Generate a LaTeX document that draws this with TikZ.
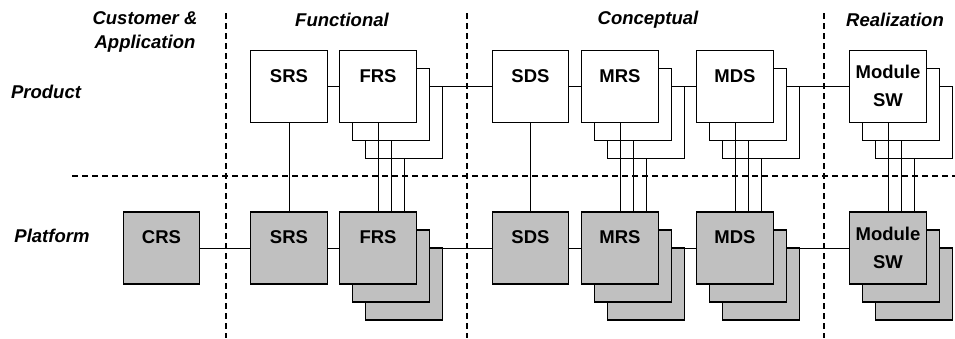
\documentclass[tikz,border=0pt]{standalone}
\usepackage{fontspec}
\setmainfont{Liberation Sans}
\begin{document}
\begin{tikzpicture}[x=1pt,y=-1pt,
  boxbase/.style={draw=black,line width=1.3pt,minimum width=76.5pt,minimum height=72pt,inner sep=0pt,anchor=center},
  prodbox/.style={boxbase,fill=white},
  platbox/.style={boxbase,fill={rgb,255:red,192;green,192;blue,192}},
  lbl/.style={font=\fontsize{18.5}{22}\selectfont\bfseries,inner sep=0pt,anchor=base},
  head/.style={font=\fontsize{18.5}{24}\selectfont\bfseries\itshape,inner sep=0pt,align=center},
  conn/.style={line width=1pt},
  sep/.style={line width=2pt,dash pattern=on 6pt off 4pt}]
\useasboundingbox (0,0) rectangle (955,338);

% separators
\coordinate (v1t) at (226,13); \coordinate (v1b) at (226,338);
\coordinate (v2t) at (467,13); \coordinate (v2b) at (467,338);
\coordinate (v3t) at (824,13); \coordinate (v3b) at (824,338);
\coordinate (hl) at (72,176); \coordinate (hr) at (955,176);
\draw[sep] (v1t) -- (v1b);
\draw[sep] (v2t) -- (v2b);
\draw[sep] (v3t) -- (v3b);
\draw[sep] (hl) -- (hr);

% headers
\node[head] (hcust) at (145,32) {Customer \&\\Application};
\node[head] (hfun) at (342,20) {Functional};
\node[head] (hcon) at (648,20) {Conceptual};
\node[head] (hrea) at (895,20) {Realization};
\node[head] (hprod) at (46,92) {Product};
\node[head] (hplat) at (52,236) {Platform};

% ---- Product row (top) ----
\node[prodbox] (tSRS) at (289,86.5) {};
\foreach \n/\x in {FRS/378,MRS/620,MDS/735,MSW/888}{
  \node[prodbox] (t\n3) at (\x+26,122.5) {};
  \node[prodbox] (t\n2) at (\x+13,104.5) {};
  \node[prodbox] (t\n) at (\x,86.5) {};
}
\node[prodbox] (tSDS) at (530.5,86.5) {};

% ---- Platform row (bottom) ----
\node[platbox] (bCRS) at (161.5,248) {};
\node[platbox] (bSRS) at (289,248) {};
\foreach \n/\x in {FRS/378,MRS/620,MDS/735,MSW/888}{
  \node[platbox] (b\n3) at (\x+26,284) {};
  \node[platbox] (b\n2) at (\x+13,266) {};
  \node[platbox] (b\n) at (\x,248) {};
}
\node[platbox] (bSDS) at (530.5,248) {};

% labels
\foreach \r/\dy in {t/33,b/32}{
  \foreach \n/\txt in {SRS/SRS,FRS/FRS,SDS/SDS,MRS/MRS,MDS/MDS}{
    \node[lbl] (\r\n l) at ([yshift=-\dy]\r\n.north) {\txt};
  }
  \node[lbl] (\r MSWla) at ([yshift=-29]\r MSW.north) {Module};
  \node[lbl] (\r MSWlb) at ([yshift=-57]\r MSW.north) {SW};
}
\node[lbl] (bCRSl) at ([yshift=-32]bCRS.north) {CRS};

% horizontal connectors
\foreach \r in {t,b}{
  \draw[conn] (\r SRS.east) -- (\r FRS.west);
  \draw[conn] (\r SDS.west -| \r FRS3.east) -- (\r SDS.west);
  \draw[conn] (\r SDS.east) -- (\r MRS.west);
  \draw[conn] (\r MDS.west -| \r MRS3.east) -- (\r MDS.west);
  \draw[conn] (\r MSW.west -| \r MDS3.east) -- (\r MSW.west);
}
\draw[conn] (bCRS.east) -- (bSRS.west);

% vertical connectors
\draw[conn] (tSRS.south) -- (bSRS.north);
\draw[conn] (tSDS.south) -- (bSDS.north);
\foreach \n in {FRS,MRS,MDS,MSW}{
  \draw[conn] (t\n.south) -- (b\n.north);
  \draw[conn] (t\n2.south) -- (t\n2.south |- b\n.north);
  \draw[conn] (t\n3.south) -- (t\n3.south |- b\n.north);
}
\end{tikzpicture}
\end{document}
